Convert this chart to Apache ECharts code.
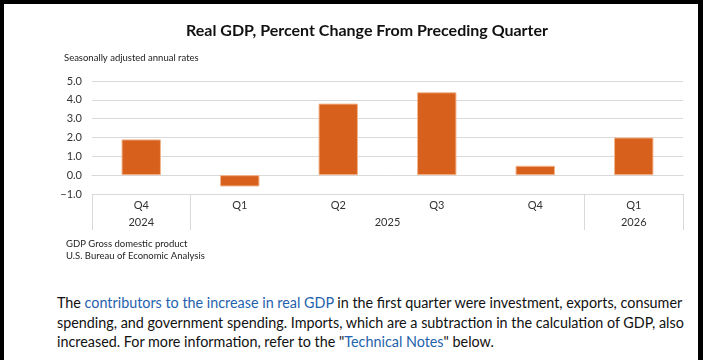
<!DOCTYPE html>
<html><head><meta charset="utf-8">
<script src="https://cdn.jsdelivr.net/npm/echarts@6/dist/echarts.min.js"></script>
<style>
html,body{margin:0;padding:0;background:#000;width:703px;height:360px;overflow:hidden}
#page{position:absolute;left:4px;top:4px;width:694px;height:356px;background:#fff}
#chart{position:absolute;left:0;top:0;width:703px;height:280px}
#note{position:absolute;left:57px;top:293px;font-family:Lato,sans-serif;font-size:14.35px;line-height:19.5px;color:#111;white-space:nowrap}
#note a{color:#1f62ad;text-decoration:none}
</style></head>
<body>
<div id="page"></div>
<div id="chart"></div>
<div id="note">The <a>contributors to the increase in real GDP</a> in the first quarter were investment, exports, consumer<br>spending, and government spending. Imports, which are a subtraction in the calculation of GDP, also<br>increased. For more information, refer to the "<a>Technical Notes</a>" below.</div>
<script>
const titleText = 'Real GDP, Percent Change From Preceding Quarter';
const subtitleText = 'Seasonally adjusted annual rates';
const footnotes = ['GDP Gross domestic product', 'U.S. Bureau of Economic Analysis'];
const categories = ['Q4', 'Q1', 'Q2', 'Q3', 'Q4', 'Q1'];
const values = [1.9, -0.6, 3.8, 4.4, 0.5, 2.0];
const yearLabels = ['2024', '2025', '2026'];
const yearSpans = [1, 4, 1];
const yMin = -1, yMax = 5, yStep = 1;

const boundaries = [0];
const centers = [];
yearSpans.forEach(s => { const b = boundaries[boundaries.length - 1]; centers.push(b + s / 2); boundaries.push(b + s); });

const font = 'Lato, sans-serif';
const chart = echarts.init(document.getElementById('chart'));
chart.setOption({
  animation: false,
  grid: { left: 92, right: 20, top: 81, height: 113 },
  xAxis: [
    {
      type: 'category', data: categories, position: 'bottom',
      axisLine: { lineStyle: { color: '#d9d9d9', width: 1 } },
      axisTick: { show: false },
      axisLabel: { margin: 6, fontSize: 11, color: '#333', fontFamily: font }
    },
    {
      type: 'value', min: 0, max: categories.length, position: 'bottom',
      axisLine: { show: false },
      splitLine: { show: false },
      axisTick: { show: true, customValues: boundaries, length: 36, lineStyle: { color: '#d9d9d9', width: 1 } },
      axisLabel: {
        customValues: centers, margin: 23, fontSize: 11, color: '#333', fontFamily: font,
        formatter: v => yearLabels[centers.indexOf(v)]
      }
    }
  ],
  yAxis: {
    type: 'value', min: yMin, max: yMax, interval: yStep,
    axisLine: { show: false }, axisTick: { show: false },
    splitLine: { lineStyle: { color: '#d9d9d9', width: 1 } },
    axisLabel: {
      margin: 10, fontSize: 11, color: '#333', fontFamily: font,
      formatter: v => (v < 0 ? '\u2212' : '') + Math.abs(v).toFixed(1)
    }
  },
  series: [{
    type: 'bar', xAxisIndex: 0, data: values, barWidth: '40%',
    itemStyle: { color: '#D6601C', borderColor: '#F2B48C', borderWidth: 1 }
  }],
  graphic: [
    { type: 'text', x: 367, y: 31, style: { text: titleText, align: 'center', verticalAlign: 'middle', fontSize: 16, fontWeight: 'bold', fontFamily: font, fill: '#111' } },
    { type: 'text', x: 64, y: 58, style: { text: subtitleText, align: 'left', verticalAlign: 'middle', fontSize: 9.5, fontFamily: font, fill: '#222' } },
    { type: 'text', x: 66, y: 244, style: { text: footnotes[0], align: 'left', verticalAlign: 'middle', fontSize: 9.5, fontFamily: font, fill: '#222' } },
    { type: 'text', x: 66, y: 256, style: { text: footnotes[1], align: 'left', verticalAlign: 'middle', fontSize: 9.5, fontFamily: font, fill: '#222' } }
  ]
});
</script>
</body></html>
